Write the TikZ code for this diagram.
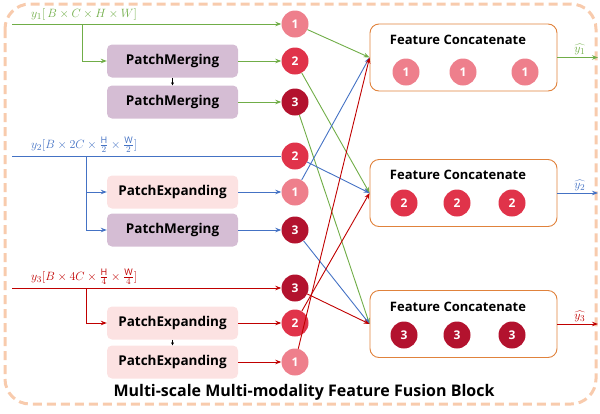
\documentclass[tikz,border=0pt]{standalone}
\usepackage{fontspec}
\setmainfont{Open Sans}
\usetikzlibrary{arrows.meta}
\definecolor{lgreen}{HTML}{70AD47}
\definecolor{lblue}{HTML}{4472C4}
\definecolor{lred}{HTML}{C00000}
\definecolor{cone}{HTML}{EE7F8C}
\definecolor{ctwo}{HTML}{E0334A}
\definecolor{cthree}{HTML}{B3122E}
\definecolor{mergefill}{HTML}{D5BDD4}
\definecolor{expandfill}{HTML}{FCE2E2}
\definecolor{concatline}{HTML}{E0823C}
\definecolor{peach}{HTML}{F8CBAD}
\tikzset{
  num/.style={circle, text=white, font=\fontsize{12}{14}\selectfont\bfseries, minimum size=27pt, inner sep=0pt},
  numone/.style={num, fill=cone},
  numtwo/.style={num, fill=ctwo},
  numthree/.style={num, fill=cthree},
  patchbox/.style={rounded corners=5pt, minimum width=131pt, minimum height=33pt, font=\fontsize{13.5}{15}\selectfont\bfseries},
  mergebox/.style={patchbox, fill=mergefill},
  expandbox/.style={patchbox, fill=expandfill},
  concatbox/.style={draw=concatline, line width=0.9pt, rounded corners=9pt, minimum width=187pt, minimum height=67pt},
  concattitle/.style={font=\fontsize{13}{15}\selectfont\bfseries},
  shape label/.style={inner sep=1pt, font=\fontsize{13}{15}\selectfont},
  flow/.style={->, line width=0.9pt},
}
\begin{document}
\begin{tikzpicture}[x=1pt, y=-1pt, >={Stealth[length=6pt, width=4.5pt]}]
    \useasboundingbox (0,0) rectangle (600,413);
    % Outer block
    \draw[peach, line width=3pt, dash pattern=on 9pt off 5pt, rounded corners=25pt] (5,4) rectangle (596,404);
    \node (title) at (304,392) [font=\fontsize{16}{18}\selectfont\bfseries] {Multi-scale Multi-modality Feature Fusion Block};

    % Inputs
    \coordinate (in1) at (12,24);
    \coordinate (in2) at (12,156);
    \coordinate (in3) at (12,288);
    \coordinate (br1) at (82,24);
    \coordinate (br2) at (86,156);
    \coordinate (br3) at (86,288);
    \node (lab1) at (30,22) [anchor=south west, shape label, text=lgreen] {$y_1[\,B \times C \times H \times W]$};
    \node (lab2) at (30,154) [anchor=south west, shape label, text=lblue] {$y_2[B \times 2C \times \frac{\mathrm{H}}{2} \times \frac{\mathrm{W}}{2}]$};
    \node (lab3) at (30,286) [anchor=south west, shape label, text=lred] {$y_3[B \times 4C \times \frac{\mathrm{H}}{4} \times \frac{\mathrm{W}}{4}]$};

    % Patch boxes
    \node (m1) at (172.5,61) [mergebox] {PatchMerging};
    \node (m2) at (172.5,102) [mergebox] {PatchMerging};
    \node (e1) at (172.5,192) [expandbox] {PatchExpanding};
    \node (m3) at (172.5,230) [mergebox] {PatchMerging};
    \node (e2) at (172.5,323) [expandbox] {PatchExpanding};
    \node (e3) at (172.5,362) [expandbox] {PatchExpanding};

    % Scale circles
    \node (a1) at (295,24) [numone] {1};
    \node (a2) at (295,61) [numtwo] {2};
    \node (a3) at (295,102) [numthree] {3};
    \node (b2) at (295,156) [numtwo] {2};
    \node (b1) at (295,192) [numone] {1};
    \node (b3) at (295,230) [numthree] {3};
    \node (c3) at (295,288) [numthree] {3};
    \node (c2) at (295,323) [numtwo] {2};
    \node (c1) at (295,362) [numone] {1};

    % Feature Concatenate boxes
    \node (fc1) at (463.5,57.5) [concatbox] {};
    \node (fc2) at (463.5,193) [concatbox] {};
    \node (fc3) at (463.5,324) [concatbox] {};
    \node (t1) at (458,40) [concattitle] {Feature Concatenate};
    \node (t2) at (458,175) [concattitle] {Feature Concatenate};
    \node (t3) at (458,307) [concattitle] {Feature Concatenate};
    \node (f11) at (406,72) [numone] {1};
    \node (f12) at (463,72) [numone] {1};
    \node (f13) at (525,72) [numone] {1};
    \node (f21) at (404,203) [numtwo] {2};
    \node (f22) at (457,203) [numtwo] {2};
    \node (f23) at (512,203) [numtwo] {2};
    \node (f31) at (404,335) [numthree] {3};
    \node (f32) at (457,335) [numthree] {3};
    \node (f33) at (512,335) [numthree] {3};

    % Scale 1 (green)
    \draw[flow, lgreen] (in1) -- (a1);
    \draw[flow, lgreen] (br1) |- (m1);
    \draw[flow, lgreen] (m1) -- (a2);
    \draw[flow, lgreen] (m2) -- (a3);
    \draw[->, black, line width=0.6pt, >={Stealth[length=3pt, width=3pt]}] (m1) -- (m2);

    % Scale 2 (blue)
    \draw[flow, lblue, -] (in2) -- (b2);
    \draw[flow, lblue] (br2) |- (e1);
    \draw[flow, lblue] (br2) |- (m3);
    \draw[flow, lblue] (e1) -- (b1);
    \draw[flow, lblue] (m3) -- (b3);

    % Scale 3 (red)
    \draw[flow, lred] (in3) -- (c3);
    \draw[flow, lred] (br3) |- (e2);
    \draw[flow, lred] (e2) -- (c2);
    \draw[flow, lred] (e3) -- (c1);
    \draw[->, black, line width=0.6pt, >={Stealth[length=3pt, width=3pt]}] (e2) -- (e3);

    % Cross connections
    \draw[flow, lgreen] (a1) -- (fc1.west);
    \draw[flow, lgreen] (a2) -- (fc2.west);
    \draw[flow, lgreen] (a3) -- (fc3.west);
    \draw[flow, lblue] (b1) -- (fc1.west);
    \draw[flow, lblue] (b2) -- (fc2.west);
    \draw[flow, lblue] (b3) -- (fc3.west);
    \draw[flow, lred] (c1) -- (fc1.west);
    \draw[flow, lred] (c2) -- (fc2.west);
    \draw[flow, lred] (c3) -- (fc3.west);

    % Outputs
    \coordinate (o1) at (598,57.5);
    \coordinate (o2) at (598,193);
    \coordinate (o3) at (598,324);
    \draw[flow, lgreen] (fc1) -- (o1) node[pos=0.55, above=1pt, shape label, text=lgreen] {$\widehat{y_1}$};
    \draw[flow, lblue] (fc2) -- (o2) node[pos=0.55, above=1pt, shape label, text=lblue] {$\widehat{y_2}$};
    \draw[flow, lred] (fc3) -- (o3) node[pos=0.55, above=1pt, shape label, text=lred] {$\widehat{y_3}$};
\end{tikzpicture}
\end{document}
